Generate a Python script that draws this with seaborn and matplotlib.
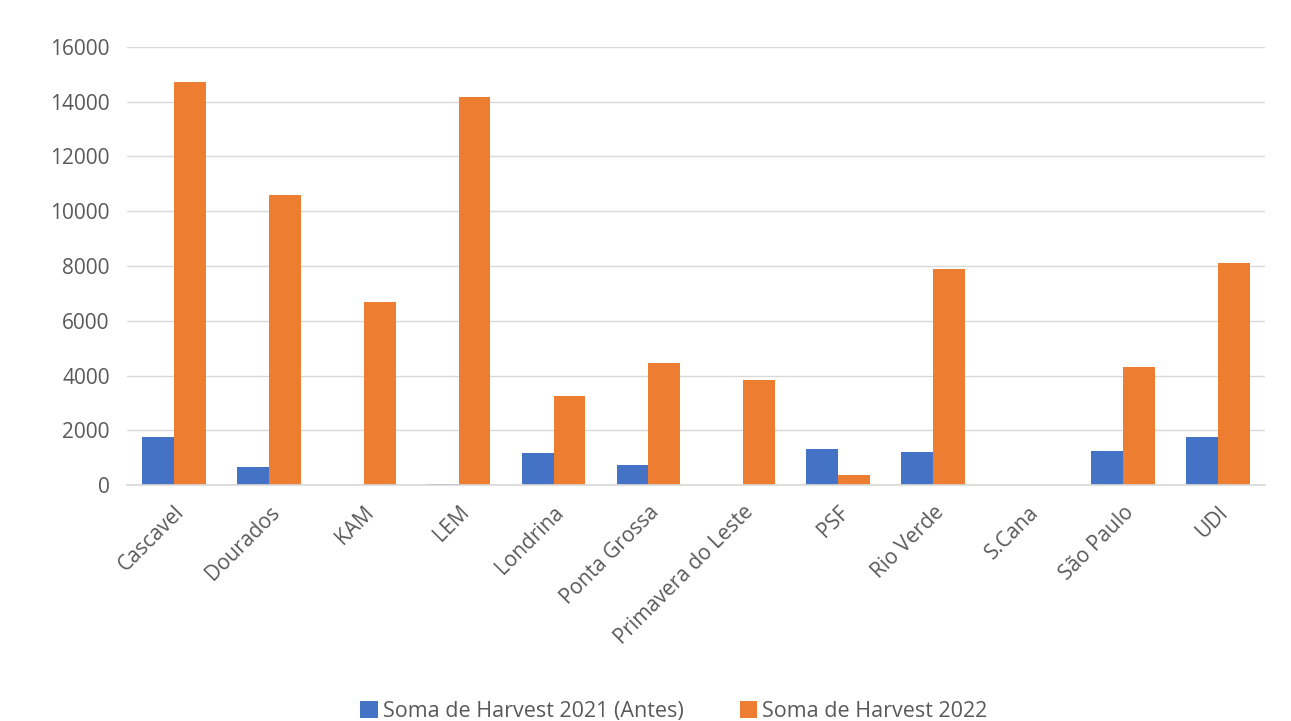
import matplotlib
matplotlib.use("Agg")
import matplotlib.pyplot as plt
import seaborn as sns
import pandas as pd

categories = ["Cascavel", "Dourados", "KAM", "LEM", "Londrina", "Ponta Grossa",
              "Primavera do Leste", "PSF", "Rio Verde", "S.Cana", "São Paulo", "UDI"]
harvest_2021 = [1750, 660, 0, 30, 1170, 730, 15, 1310, 1200, 0, 1240, 1750]
harvest_2022 = [14700, 10600, 6680, 14170, 3250, 4450, 3830, 370, 7900, 0, 4300, 8100]
series_names = ["Soma de Harvest 2021 (Antes)", "Soma de Harvest 2022"]
y_ticks = [0, 2000, 4000, 6000, 8000, 10000, 12000, 14000, 16000]

df = pd.DataFrame({
    "Local": categories * 2,
    "Valor": harvest_2021 + harvest_2022,
    "Serie": [series_names[0]] * len(categories) + [series_names[1]] * len(categories),
})

sns.set_theme(style="white")
plt.rcParams['font.family'] = ['Open Sans', 'DejaVu Sans']

fig = plt.figure(figsize=(12.91, 7.21), dpi=100)
ax = fig.add_axes([0.098, 0.327, 0.882, 0.608])

sns.barplot(data=df, x="Local", y="Valor", hue="Serie", order=categories,
            hue_order=series_names, palette=["#4472C4", "#ED7D31"],
            width=0.67, saturation=1, ax=ax, legend=True,
            linewidth=0, edgecolor="none")

ax.set_ylim(0, 16000)
ax.set_xlim(-0.5, len(categories) - 0.5)
ax.set_yticks(y_ticks)
ax.set_yticklabels([str(v) for v in y_ticks], fontsize=15, color="#595959")
ax.set_xticks(range(len(categories)))
ax.set_xticklabels(categories, rotation=45, ha="right", rotation_mode="anchor",
                   fontsize=15, color="#595959")
ax.tick_params(axis="y", length=0, pad=12)
ax.tick_params(axis="x", length=0, pad=12)
ax.yaxis.grid(True, color="#D9D9D9", linewidth=1)
ax.set_axisbelow(True)
for s in ["top", "right", "left"]:
    ax.spines[s].set_visible(False)
ax.spines["bottom"].set_color("#D9D9D9")
ax.set_xlabel("")
ax.set_ylabel("")

handles, labels = ax.get_legend_handles_labels()
ax.get_legend().remove()
fig.legend(handles, labels, loc="lower center", bbox_to_anchor=(0.522, -0.028), ncol=2,
           frameon=False, fontsize=15.5, handlelength=0.8, handleheight=0.8,
           handletextpad=0.25, columnspacing=2.6, labelcolor="#595959")

fig.savefig("out.png", dpi=100, facecolor="white")
